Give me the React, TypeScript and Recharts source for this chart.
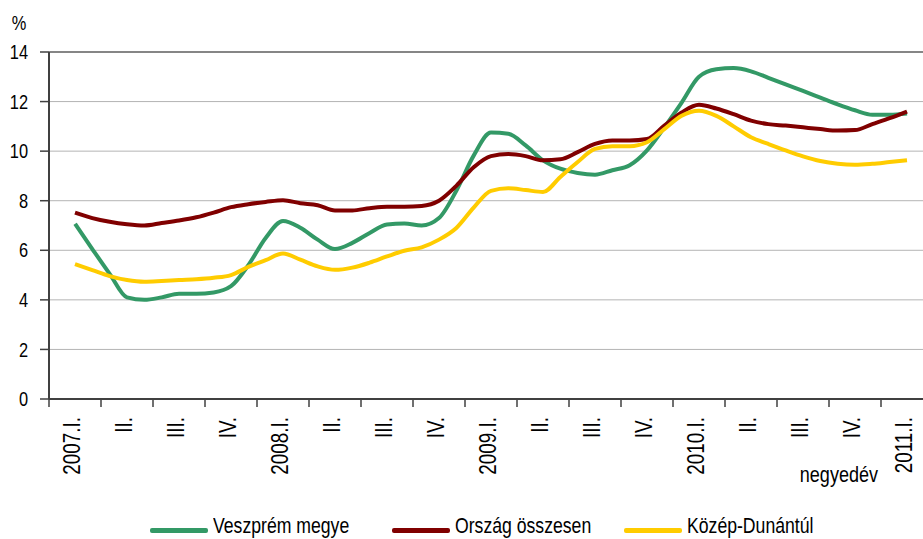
import React from "react";
import {
  LineChart,
  Line,
  XAxis,
  YAxis,
  CartesianGrid,
  ReferenceLine,
  Legend,
} from "recharts";

// Quarter labels shown under the axis (one per 3 monthly points)
const QUARTER_LABELS = [
  "2007.I.", "II.", "III.", "IV.",
  "2008.I.", "II.", "III.", "IV.",
  "2009.I.", "II.", "III.", "IV.",
  "2010.I.", "II.", "III.", "IV.",
  "2011.I.",
];

const Y_TICKS = [0, 2, 4, 6, 8, 10, 12, 14];

// Monthly values, % (2007 Jan .. 2011 Jan)
const VESZPREM = [
  7.07, 6.05, 5.05, 4.1, 4.0, 4.1, 4.25, 4.25, 4.3, 4.55, 5.4, 6.5,
  7.18, 6.91, 6.43, 6.05, 6.3, 6.7, 7.04, 7.08, 7.0, 7.3, 8.4, 9.82,
  10.75, 10.7, 10.23, 9.63, 9.29, 9.12, 9.05, 9.23, 9.43, 10.03, 10.96, 11.96,
  13.0, 13.3, 13.35, 13.22, 12.96, 12.69, 12.43, 12.16, 11.89, 11.65, 11.47, 11.47,
  11.52,
];

const ORSZAG = [
  7.52, 7.3, 7.15, 7.05, 7.0, 7.1, 7.2, 7.33, 7.52, 7.74, 7.86, 7.95,
  8.02, 7.9, 7.82, 7.61, 7.61, 7.7, 7.76, 7.76, 7.79, 8.0, 8.6, 9.35,
  9.8, 9.88, 9.8, 9.63, 9.67, 9.96, 10.29, 10.43, 10.43, 10.49, 11.03, 11.56,
  11.87, 11.72, 11.49, 11.23, 11.09, 11.03, 10.96, 10.89, 10.83, 10.85, 11.09, 11.33,
  11.6,
];

const KOZEP_DUNANTUL = [
  5.44, 5.2, 4.96, 4.8, 4.73, 4.76, 4.8, 4.83, 4.89, 5.0, 5.33, 5.6,
  5.87, 5.62, 5.35, 5.21, 5.3, 5.5, 5.75, 5.98, 6.12, 6.43, 6.9, 7.72,
  8.4, 8.5, 8.43, 8.35, 8.96, 9.56, 10.09, 10.2, 10.2, 10.36, 10.89, 11.43,
  11.63, 11.42, 11.0, 10.56, 10.29, 10.03, 9.79, 9.6, 9.49, 9.45, 9.49, 9.56,
  9.63,
];

const SERIES = [
  { key: "veszprem", name: "Veszprém megye", color: "#339966" },
  { key: "orszag", name: "Ország összesen", color: "#800000" },
  { key: "kozep", name: "Közép-Dunántúl", color: "#FFCC00" },
];

const data = VESZPREM.map((v, i) => ({
  idx: i,
  veszprem: v,
  orszag: ORSZAG[i],
  kozep: KOZEP_DUNANTUL[i],
}));

const MONTH_TICKS = QUARTER_LABELS.map((_, q) => q * 3);

// ---------------------------------------------------------------------------
// Layout
// ---------------------------------------------------------------------------

// no narrow face installed -> Liberation Sans squeezed horizontally
const FONT = "'Liberation Sans', Arial, sans-serif";
const SQUEEZE = 0.82;
const CHART_W = 950;
const CHART_H = 539;
const MARGIN = { top: 52, right: 17, bottom: 36, left: 0 };
const Y_AXIS_W = 49;
const PLOT_W = CHART_W - MARGIN.right - MARGIN.left - Y_AXIS_W;
const X_DOMAIN: [number, number] = [-1.5, 49.5];
const HALF_QUARTER = (PLOT_W / (X_DOMAIN[1] - X_DOMAIN[0])) * 1.5;
const AXIS_COLOR = "#404040";
const LEGEND_LEFT = [150, 392, 624];

function NarrowText({ x, y, rotate = 0, anchor = "start", size, dy = "0", children }: any) {
  return (
    <text
      transform={`translate(${x}, ${y}) rotate(${rotate}) scale(${SQUEEZE}, 1)`}
      textAnchor={anchor}
      dy={dy}
      fontSize={size}
      fontFamily={FONT}
      fill="#000"
    >
      {children}
    </text>
  );
}

function QuarterTick(props: any) {
  const { x, y, payload } = props;
  const axisY = y - 18;
  const label = QUARTER_LABELS[Math.round(payload.value / 3)];
  return (
    <g>
      <line x1={x - HALF_QUARTER} x2={x - HALF_QUARTER} y1={axisY} y2={axisY + 8} stroke={AXIS_COLOR} strokeWidth={1.5} />
      <NarrowText x={x - 3} y={y} rotate={-90} anchor="end" size={23} dy="0.36em">
        {label}
      </NarrowText>
    </g>
  );
}

function ValueTick(props: any) {
  const { x, y, payload } = props;
  return (
    <NarrowText x={x} y={y} anchor="end" size={20} dy="0.36em">
      {payload.value}
    </NarrowText>
  );
}

function LegendContent() {
  return (
    <div style={{ position: "relative", width: 923, height: 24, fontFamily: FONT, fontSize: 21.5, lineHeight: "24px", color: "#000" }}>
      {SERIES.map((s, i) => (
        <div key={s.key} style={{ position: "absolute", left: LEGEND_LEFT[i], top: 0, height: 24 }}>
          <div style={{ position: "absolute", left: 0, top: 13, width: 58, height: 5, borderRadius: 2, background: s.color }} />
          <span
            style={{
              position: "absolute",
              left: 63,
              top: -1,
              whiteSpace: "nowrap",
              transform: `scaleX(${SQUEEZE})`,
              transformOrigin: "left center",
            }}
          >
            {s.name}
          </span>
        </div>
      ))}
    </div>
  );
}

export default function App() {
  return (
    <div style={{ position: "absolute", left: 0, top: 0, width: 923, height: 539, overflow: "hidden", background: "#fff" }}>
      <LineChart width={CHART_W} height={CHART_H} data={data} margin={MARGIN}>
        <CartesianGrid stroke="#b4b4b4" strokeWidth={1} vertical={false} />
        <ReferenceLine y={14} stroke="#868686" strokeWidth={2} />

        <XAxis
          dataKey="idx"
          type="number"
          domain={X_DOMAIN}
          ticks={MONTH_TICKS}
          interval={0}
          height={80}
          tickLine={false}
          tickSize={8}
          tickMargin={10}
          axisLine={{ stroke: AXIS_COLOR, strokeWidth: 2 }}
          tick={(p: any) => <QuarterTick {...p} />}
          allowDataOverflow
          label={{
            content: (p: any) => {
              const vb = p.viewBox;
              return (
                <NarrowText x={vb.x + vb.width - 55} y={vb.y + 83} anchor="end" size={22}>
                  negyedév
                </NarrowText>
              );
            },
          }}
        />
        <YAxis
          domain={[0, 14]}
          ticks={Y_TICKS}
          width={Y_AXIS_W}
          tickSize={9}
          tickMargin={12}
          tickLine={{ stroke: AXIS_COLOR, strokeWidth: 1.5 }}
          axisLine={{ stroke: AXIS_COLOR, strokeWidth: 2 }}
          tick={(p: any) => <ValueTick {...p} />}
          label={{
            content: (p: any) => {
              const vb = p.viewBox;
              return (
                <NarrowText x={vb.x + 19} y={vb.y - 22} anchor="middle" size={20}>
                  %
                </NarrowText>
              );
            },
          }}
        />

        <Legend verticalAlign="bottom" wrapperStyle={{ left: 0, bottom: 0, width: 923, height: 24 }} content={() => <LegendContent />} />

        {SERIES.map((s) => (
          <Line
            key={s.key}
            type="monotone"
            dataKey={s.key}
            name={s.name}
            stroke={s.color}
            strokeWidth={4}
            dot={false}
            activeDot={false}
            isAnimationActive={false}
          />
        ))}
      </LineChart>
    </div>
  );
}
